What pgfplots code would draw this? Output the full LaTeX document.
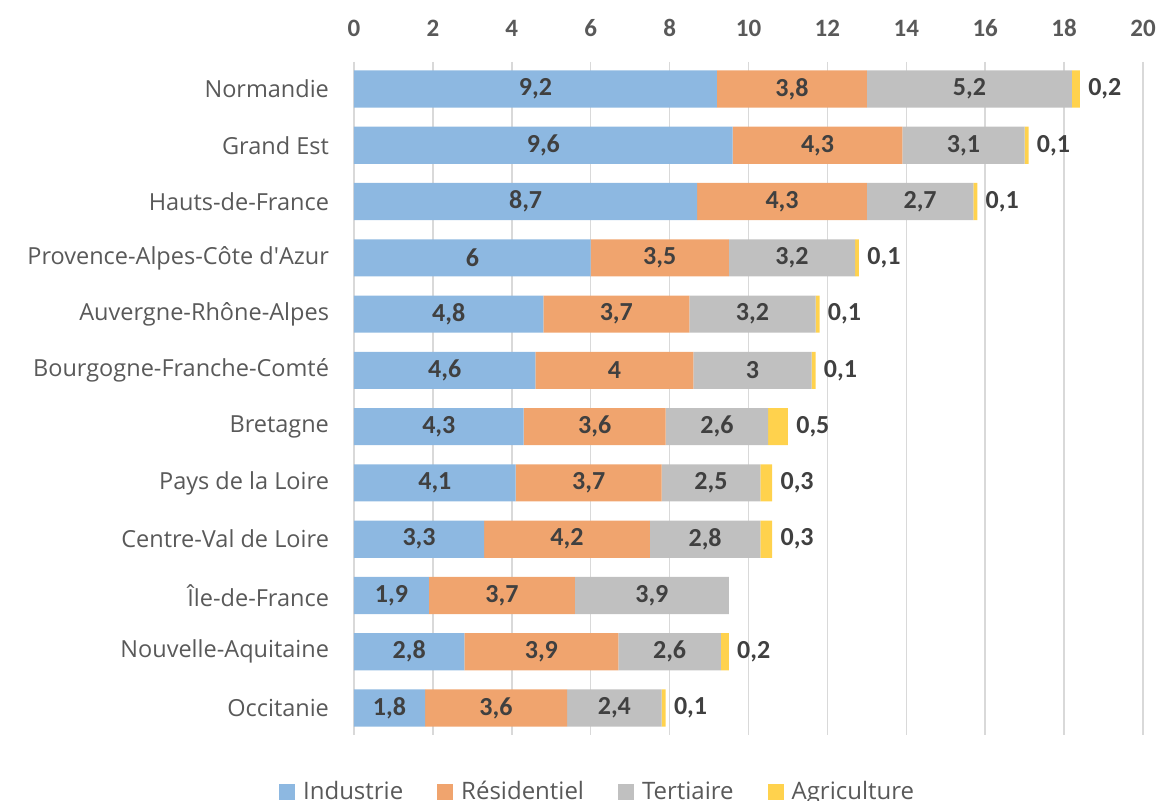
\documentclass[border=0pt]{standalone}
\usepackage{pgfplots}
\pgfplotsset{compat=1.18}
\usepackage{pgfplotstable}
\usepackage{fontspec}
\setmainfont{Open Sans}
\newfontfamily\numfont{Carlito}

\definecolor{cInd}{RGB}{141,184,225}
\definecolor{cRes}{RGB}{240,164,110}
\definecolor{cTer}{RGB}{192,192,192}
\definecolor{cAgr}{RGB}{255,210,77}
\definecolor{txtdark}{RGB}{64,64,64}
\definecolor{txtgray}{RGB}{89,89,89}
\definecolor{gridc}{RGB}{217,217,217}

% consommation par secteur et par region
\pgfplotstableread{
idx ind res ter agr
0  9.2 3.8 5.2 0.2
1  9.6 4.3 3.1 0.1
2  8.7 4.3 2.7 0.1
3  6   3.5 3.2 0.1
4  4.8 3.7 3.2 0.1
5  4.6 4   3   0.1
6  4.3 3.6 2.6 0.5
7  4.1 3.7 2.5 0.3
8  3.3 4.2 2.8 0.3
9  1.9 3.7 3.9 0
10 2.8 3.9 2.6 0.2
11 1.8 3.6 2.4 0.1
}\data

\pgfplotsset{
  seg/.style={
    draw=none, fill=#1,
    nodes near coords={\pgfmathprintnumber[use comma]{\pgfplotspointmeta}},
    point meta=explicit,
    nodes near coords style={anchor=center,
      font=\numfont\bfseries\fontsize{13}{15}\selectfont, text=txtdark},
  },
}

\begin{document}
\begin{tikzpicture}
\begin{axis}[
  name=ax,
  xbar stacked,
  scale only axis,
  width=394.5pt, height=336.5pt,
  xmin=0, xmax=20,
  ymin=-0.48, ymax=11.48,
  y dir=reverse,
  bar width=0.66,
  /pgf/number format/assume math mode=true,
  xtick={0,2,...,20},
  xticklabel pos=upper,
  xticklabel style={font=\numfont\bfseries\fontsize{12.5}{14}\selectfont, text=txtgray, yshift=9pt},
  ytick={0,...,11},
  yticklabels={Normandie, Grand Est, Hauts-de-France, Provence-Alpes-Côte d\textquotesingle Azur,
    Auvergne-Rhône-Alpes, Bourgogne-Franche-Comté, Bretagne, Pays de la Loire,
    Centre-Val de Loire, Île-de-France, Nouvelle-Aquitaine, Occitanie},
  yticklabel style={font=\fontsize{11.75}{14}\selectfont, text=txtgray, xshift=-9pt},
  axis line style={draw=none},
  major tick length=0pt,
  xmajorgrids,
  grid style={gridc, line width=0.75pt},
  legend columns=4,
  legend style={at={(axis description cs:0.310,-0.085)}, anchor=center,
    draw=none, fill=none, font=\fontsize{12}{14}\selectfont, text=txtgray,
    /tikz/every even column/.append style={column sep=15pt}},
  legend image code/.code={\fill[#1] (0pt,-4pt) rectangle (8pt,4pt); \path (10pt,0pt);},
]
\addplot[seg=cInd] table[x=ind, y=idx, meta=ind] {\data};
\addlegendentry{Industrie}
\addplot[seg=cRes] table[x=res, y=idx, meta=res] {\data};
\addlegendentry{Résidentiel}
\addplot[seg=cTer] table[x=ter, y=idx, meta=ter] {\data};
\addlegendentry{Tertiaire}
\addplot[draw=none, fill=cAgr,
    nodes near coords={\pgfmathprintnumber[use comma]{\pgfplotspointmeta}},
    point meta=explicit, point meta min=0, point meta max=10,
    nodes near coords style={anchor=west, inner sep=0pt,
      xshift=4pt+\pgfplotspointmetatransformed*0.098625pt,
      font=\numfont\bfseries\fontsize{13}{15}\selectfont, text=txtdark}]
  table[x=agr, y=idx, meta=agr] {\data};
\addlegendentry{Agriculture}
\end{axis}
\pgfresetboundingbox
\path[use as bounding box] ([xshift=-177pt,yshift=31pt]ax.north west) rectangle ([xshift=8.5pt,yshift=-33pt]ax.south east);
\end{tikzpicture}
\end{document}
